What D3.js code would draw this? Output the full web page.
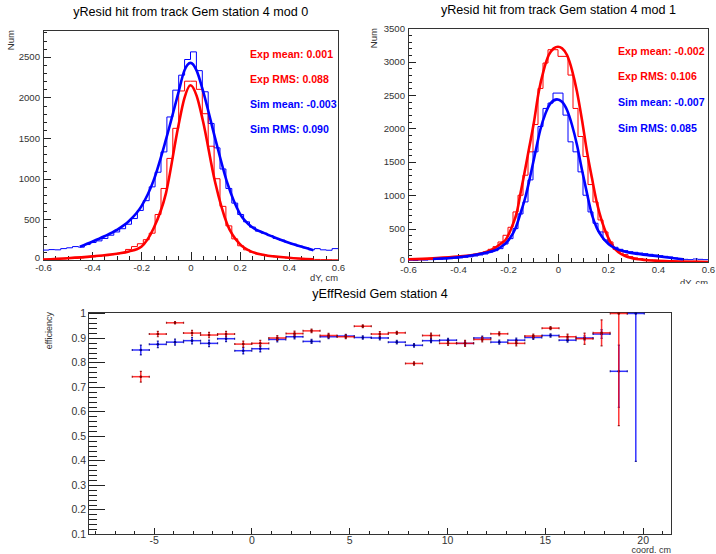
<!DOCTYPE html>
<html lang="en">
<head>
<meta charset="utf-8">
<title>yResid hit from track Gem station 4</title>
<style>
  body { margin: 0; background-color: white; }
  svg { display: block; font-family: "Liberation Sans", Arial, Helvetica, sans-serif; }
  .frame { fill: none; stroke: #333; stroke-width: 1; shape-rendering: crispEdges; }
  .axis path { display: none; }
  .axis line { stroke: #222; shape-rendering: crispEdges; }
  .axis text { fill: #333; }
  .title { fill: black; text-anchor: middle; }
  .axlabel { fill: #333; text-anchor: end; }
  .stat { font-size: 10.6px; font-weight: bold; }
  .hist { fill: none; stroke-width: 1; }
  .fit { fill: none; stroke-width: 2.6; stroke-linejoin: round; }
</style>
</head>
<body>
<script src="https://cdnjs.cloudflare.com/ajax/libs/d3/7.8.5/d3.min.js"></script>
<script>
// ---- data ----
var histXTicks = [-0.6, -0.4, -0.2, 0, 0.2, 0.4, 0.6];
var mod0YTicks = [0, 500, 1000, 1500, 2000, 2500];
var mod1YTicks = [0, 500, 1000, 1500, 2000, 2500, 3000, 3500];
var effXTicks = [-5, 0, 5, 10, 15, 20];
var effYTicks = [0.1, 0.2, 0.3, 0.4, 0.5, 0.6, 0.7, 0.8, 0.9, 1];

var titleMod0 = "yResid hit from track Gem station 4 mod 0";
var titleMod1 = "yResid hit from track Gem station 4 mod 1";
var titleEff = "yEffResid Gem station 4";

var statsMod0 = ["Exp mean: 0.001", "Exp RMS: 0.088", "Sim mean: -0.003", "Sim RMS: 0.090"];
var statsMod1 = ["Exp mean: -0.002", "Exp RMS: 0.106", "Sim mean: -0.007", "Sim RMS: 0.085"];

// mod 0: 50 bins of 0.024 from -0.6
var mod0BinLo = -0.6, mod0BinW = 0.024;
var mod0Sim = [122, 128, 125, 140, 150, 165, 158, 190, 215, 235,
               265, 305, 345, 385, 440, 510, 610, 730, 900, 1080,
               1330, 1760, 2090, 2274, 2467, 2561, 2330, 2070, 1680, 1380,
               1120, 880, 700, 560, 470, 405, 355, 330, 300, 265,
               245, 215, 195, 170, 150, 125, 140, 125, 120, 140];
var mod0Exp = [8, 10, 12, 15, 20, 22, 28, 35, 40, 48,
               55, 65, 75, 90, 130, 165, 200, 250, 330, 560,
               880, 1250, 1620, 2080, 2200, 2200, 2100, 1800, 1400, 1000,
               660, 420, 260, 175, 125, 95, 75, 60, 48, 40,
               32, 26, 20, 16, 12, 9, 7, 5, 4, 3];

// mod 1: 60 bins of 0.02 from -0.6
var mod1BinLo = -0.6, mod1BinW = 0.02;
var mod1Exp = [40, 45, 50, 40, 55, 50, 60, 65, 70, 80,
               85, 95, 100, 115, 130, 150, 190, 230, 300, 400,
               520, 750, 1000, 1300, 1650, 2060, 2600, 2980, 3180, 3180,
               3080, 3080, 2800, 2300, 1880, 1580, 1160, 900, 630, 450,
               300, 190, 160, 110, 80, 60, 50, 40, 30, 25,
               20, 15, 20, 12, 10, 10, 8, 12, 10, 8];
var mod1Sim = [25, 22, 30, 28, 35, 38, 40, 45, 50, 55,
               62, 70, 78, 90, 105, 120, 150, 170, 200, 270,
               350, 500, 720, 900, 1230, 1650, 2030, 2300, 2380, 2530,
               2530, 2200, 1800, 1650, 1350, 1000, 750, 580, 450, 330,
               270, 220, 190, 170, 155, 145, 135, 125, 115, 105,
               95, 85, 75, 60, 50, 40, 35, 45, 40, 35];

// fitted curves [dY, count]
var mod0SimFit = [[-0.45, 164], [-0.4, 225], [-0.35, 292], [-0.3, 370], [-0.25, 480], [-0.2, 660],
                  [-0.15, 980], [-0.1, 1480], [-0.05, 2050], [-0.025, 2330], [0, 2425], [0.025, 2330],
                  [0.05, 2090], [0.1, 1500], [0.15, 945], [0.2, 575], [0.25, 405], [0.3, 330],
                  [0.35, 268], [0.4, 213], [0.45, 165], [0.5, 120]];
var mod0ExpFit = [[-0.6, 5], [-0.5, 22], [-0.4, 45], [-0.3, 78], [-0.25, 105], [-0.2, 164],
                  [-0.15, 390], [-0.1, 820], [-0.05, 1640], [-0.025, 1990], [0, 2150], [0.025, 2020],
                  [0.05, 1720], [0.1, 960], [0.15, 434], [0.2, 197], [0.25, 100], [0.3, 62],
                  [0.4, 28], [0.5, 8]];
var mod1ExpFit = [[-0.6, 40], [-0.5, 55], [-0.4, 80], [-0.304, 130], [-0.257, 200], [-0.23, 270],
                  [-0.21, 330], [-0.184, 530], [-0.164, 754], [-0.15, 1028], [-0.137, 1278],
                  [-0.117, 1677], [-0.097, 2077], [-0.077, 2551], [-0.057, 2875], [-0.037, 3100],
                  [-0.017, 3200], [0, 3225], [0.016, 3200], [0.036, 3100], [0.056, 2875],
                  [0.076, 2551], [0.096, 2127], [0.116, 1652], [0.136, 1253], [0.156, 879],
                  [0.176, 604], [0.196, 404], [0.216, 255], [0.242, 145], [0.269, 90],
                  [0.322, 40], [0.389, 20], [0.456, 10], [0.6, 0]];
var mod1SimFit = [[-0.5, 45], [-0.4, 70], [-0.3, 130], [-0.237, 205], [-0.197, 330], [-0.17, 504],
                  [-0.15, 729], [-0.13, 978], [-0.11, 1303], [-0.09, 1652], [-0.071, 1977],
                  [-0.05, 2226], [-0.03, 2376], [-0.004, 2436], [0.016, 2401], [0.036, 2276],
                  [0.056, 2052], [0.076, 1752], [0.096, 1378], [0.116, 1028], [0.136, 704],
                  [0.156, 504], [0.176, 379], [0.202, 270], [0.229, 205], [0.269, 155],
                  [0.322, 120], [0.389, 90], [0.456, 60], [0.5, 40]];

// efficiency vs coordinate
var effX = [-5.66, -4.79, -3.91, -3.04, -2.17, -1.30, -0.42, 0.45, 1.32, 2.20,
            3.07, 3.94, 4.82, 5.69, 6.56, 7.43, 8.31, 9.18, 10.05, 10.92,
            11.80, 12.67, 13.54, 14.41, 15.29, 16.16, 17.03, 17.90, 18.78, 19.65];
var effHalfBin = 0.436;
var effExp = [0.742, 0.916, 0.962, 0.920, 0.912, 0.916, 0.875, 0.878, 0.900, 0.918,
              0.929, 0.910, 0.905, 0.948, 0.916, 0.921, 0.796, 0.910, 0.878, 0.878,
              0.894, 0.917, 0.878, 0.908, 0.940, 0.905, 0.897, 0.921, 1.0];
var effExpErrLo = [0.022, 0.011, 0.005, 0.011, 0.011, 0.011, 0.012, 0.012, 0.010, 0.010,
                   0.007, 0.009, 0.008, 0.006, 0.010, 0.006, 0.007, 0.010, 0.008, 0.012,
                   0.010, 0.008, 0.010, 0.008, 0.006, 0.011, 0.023, 0.053, 0.458];
var effExpErrHi = [0.022, 0.011, 0.005, 0.011, 0.011, 0.011, 0.012, 0.012, 0.010, 0.010,
                   0.007, 0.009, 0.008, 0.006, 0.010, 0.006, 0.007, 0.010, 0.008, 0.012,
                   0.010, 0.008, 0.010, 0.008, 0.006, 0.011, 0.023, 0.053, 0];
var effSim = [0.851, 0.874, 0.883, 0.889, 0.878, 0.897, 0.848, 0.856, 0.894, 0.905,
              0.886, 0.905, 0.908, 0.902, 0.900, 0.883, 0.870, 0.889, 0.891, 0.878,
              0.900, 0.883, 0.891, 0.902, 0.910, 0.891, 0.900, 0.916, 0.764, 1.0];
var effSimErrLo = [0.020, 0.013, 0.012, 0.013, 0.013, 0.012, 0.013, 0.013, 0.010, 0.009,
                   0.008, 0.008, 0.007, 0.007, 0.008, 0.007, 0.007, 0.008, 0.007, 0.008,
                   0.008, 0.008, 0.008, 0.008, 0.007, 0.008, 0.009, 0.018, 0.147, 0.604];
var effSimErrHi = [0.020, 0.013, 0.012, 0.013, 0.013, 0.012, 0.013, 0.013, 0.010, 0.009,
                   0.008, 0.008, 0.007, 0.007, 0.008, 0.007, 0.007, 0.008, 0.007, 0.008,
                   0.008, 0.008, 0.008, 0.008, 0.007, 0.008, 0.009, 0.018, 0.107, 0];

var expColor = "#ff0000";
var simColor = "#0000ff";

// ---- drawing ----
var svg = d3.select("body").append("svg")
    .attr("width", 716)
    .attr("height", 554);

svg.append("rect").attr("width", 716).attr("height", 554).attr("fill", "white");

function stepPoints(lo, w, counts) {
    var pts = [];
    counts.forEach(function(c, i) {
        pts.push([lo + i * w, c]);
        pts.push([lo + (i + 1) * w, c]);
    });
    return pts;
}

// ROOT-like axes: ticks point into the frame, minor ticks in between
function drawAxes(g, x, y, o) {
    var x0 = x.range()[0], x1 = x.range()[1];
    var y0 = y.range()[1], y1 = y.range()[0];

    var xMinor = d3.range(Math.ceil(x.domain()[0] / o.xMinorStep - 1e-6), Math.floor(x.domain()[1] / o.xMinorStep + 1e-6) + 1)
        .map(function(k) { return +(k * o.xMinorStep).toFixed(4); });
    var yMinor = d3.range(Math.ceil(y.domain()[0] / o.yMinorStep - 1e-6), Math.floor(y.domain()[1] / o.yMinorStep + 1e-6) + 1)
        .map(function(k) { return +(k * o.yMinorStep).toFixed(4); });

    g.append("g").attr("class", "axis")
        .attr("transform", "translate(0," + y1 + ")")
        .call(d3.axisBottom(x).tickValues(xMinor).tickSizeInner(-o.xLen / 2).tickSizeOuter(0).tickFormat(""));
    g.append("g").attr("class", "axis")
        .attr("transform", "translate(" + x0 + ",0)")
        .call(d3.axisLeft(y).tickValues(yMinor).tickSizeInner(-o.yLen / 2).tickSizeOuter(0).tickFormat(""));

    var xa = g.append("g").attr("class", "axis")
        .attr("transform", "translate(0," + y1 + ")")
        .call(d3.axisBottom(x).tickValues(o.xTicks).tickSizeInner(-o.xLen).tickSizeOuter(0)
            .tickPadding(o.xPad).tickFormat(o.xFormat));
    xa.selectAll("text").style("font-size", o.fontSize + "px");

    var ya = g.append("g").attr("class", "axis")
        .attr("transform", "translate(" + x0 + ",0)")
        .call(d3.axisLeft(y).tickValues(o.yTicks).tickSizeInner(-o.yLen).tickSizeOuter(0)
            .tickPadding(o.yPad).tickFormat(o.yFormat));
    ya.selectAll("text").style("font-size", o.fontSize + "px");
    // lift the bottom label a little so it clears the corner x label
    if (o.liftFirst) ya.selectAll("text").filter(function(d, i) { return i === 0; }).attr("dy", "0em");

    g.append("rect").attr("class", "frame")
        .attr("x", x0 + 0.5).attr("y", y0 + 0.5)
        .attr("width", x1 - x0).attr("height", y1 - y0);
}

function fmtDY(d) { return d === 0 ? "0" : d.toFixed(1); }

function drawResidPanel(p) {
    var g = svg.append("g");
    var x = d3.scaleLinear().domain([-0.6, 0.6]).range([p.left, p.right]);
    var y = d3.scaleLinear().domain([0, p.yMax]).range([p.bottom, p.top]);

    g.append("clipPath").attr("id", p.id)
        .append("rect").attr("x", p.left).attr("y", p.top)
        .attr("width", p.right - p.left).attr("height", p.bottom - p.top);

    drawAxes(g, x, y, {
        xTicks: histXTicks, yTicks: p.yTicks, xMinorStep: 0.05, yMinorStep: 100,
        xLen: 8, yLen: 8, xPad: 4.5, yPad: 3, fontSize: 9.6, liftFirst: true,
        xFormat: fmtDY, yFormat: d3.format("d")
    });

    var plot = g.append("g").attr("clip-path", "url(#" + p.id + ")");
    var line = d3.line().x(function(d) { return x(d[0]); }).y(function(d) { return y(d[1]); });
    var smooth = d3.line().curve(d3.curveMonotoneX)
        .x(function(d) { return x(d[0]); }).y(function(d) { return y(d[1]); });

    p.hists.forEach(function(h) {
        plot.append("path").attr("class", "hist")
            .attr("stroke", h.color)
            .attr("d", line(stepPoints(p.binLo, p.binW, h.counts)));
    });
    p.fits.forEach(function(f) {
        plot.append("path").attr("class", "fit")
            .attr("stroke", f.color)
            .attr("d", smooth(f.pts));
    });

    svg.append("text").attr("class", "title")
        .attr("x", p.titleX).attr("y", p.titleY)
        .style("font-size", "12.6px")
        .text(p.title);

    p.stats.forEach(function(s, i) {
        svg.append("text").attr("class", "stat")
            .attr("x", p.statX).attr("y", p.statY + i * p.statDY)
            .attr("fill", i < 2 ? expColor : simColor)
            .text(s);
    });

    svg.append("text").attr("class", "axlabel")
        .attr("transform", "translate(" + p.numX + "," + p.top + ") rotate(-90)")
        .style("font-size", "9.6px")
        .text("Num");

    var lab = svg.append("text").attr("class", "axlabel")
        .attr("x", p.right).attr("y", p.dyLabelY)
        .style("font-size", "9.4px")
        .text("dY, cm");
    if (p.labelClip) lab.attr("clip-path", "url(#" + p.labelClip + ")");
}

svg.append("clipPath").attr("id", "topPad")
    .append("rect").attr("x", 0).attr("y", 0).attr("width", 716).attr("height", 284);

drawResidPanel({
    id: "clipMod0", left: 43, right: 338, top: 30, bottom: 260, yMax: 2830, yTicks: mod0YTicks,
    binLo: mod0BinLo, binW: mod0BinW,
    hists: [{ counts: mod0Sim, color: simColor }, { counts: mod0Exp, color: expColor }],
    fits: [{ pts: mod0SimFit, color: simColor }, { pts: mod0ExpFit, color: expColor }],
    title: titleMod0, titleX: 190.8, titleY: 15.7,
    stats: statsMod0, statX: 250, statY: 57.5, statDY: 25.1,
    numX: 14, dyLabelY: 280.5
});

drawResidPanel({
    id: "clipMod1", left: 408, right: 708, top: 28, bottom: 262, yMax: 3505, yTicks: mod1YTicks,
    binLo: mod1BinLo, binW: mod1BinW,
    hists: [{ counts: mod1Exp, color: expColor }, { counts: mod1Sim, color: simColor }],
    fits: [{ pts: mod1ExpFit, color: expColor }, { pts: mod1SimFit, color: simColor }],
    title: titleMod1, titleX: 558.5, titleY: 13.5,
    stats: statsMod1, statX: 618, statY: 54.5, statDY: 25.8,
    numX: 377, dyLabelY: 285.5, labelClip: "topPad"
});

// ---- efficiency panel ----
var eg = svg.append("g");
var ex = d3.scaleLinear().domain([-8.36, 21.45]).range([88, 671]);
var ey = d3.scaleLinear().domain([0.1, 1.006]).range([534, 312]);

drawAxes(eg, ex, ey, {
    xTicks: effXTicks, yTicks: effYTicks, xMinorStep: 1, yMinorStep: 0.02,
    xLen: 6.5, yLen: 17, xPad: 3, yPad: 2, fontSize: 10.5,
    xFormat: function(d) { return d < 0 ? "-" + Math.abs(d) : String(d); },
    yFormat: function(d) { return d === 1 ? "1" : d.toFixed(1); }
});

function effPoints(vals, lo, hi) {
    return vals.map(function(v, i) {
        return { x: effX[i], v: v, lo: lo[i], hi: hi[i] };
    });
}

function drawEff(pts, color, dark) {
    var grp = eg.append("g").attr("stroke", color).attr("stroke-width", 1.5).attr("stroke-opacity", 0.8);
    var pt = grp.selectAll("g").data(pts).enter().append("g");
    pt.append("line")
        .attr("x1", function(d) { return ex(d.x - effHalfBin); })
        .attr("x2", function(d) { return ex(d.x + effHalfBin); })
        .attr("y1", function(d) { return ey(d.v); })
        .attr("y2", function(d) { return ey(d.v); });
    pt.append("line")
        .attr("x1", function(d) { return ex(d.x); })
        .attr("x2", function(d) { return ex(d.x); })
        .attr("y1", function(d) { return ey(d.v + d.hi); })
        .attr("y2", function(d) { return ey(d.v - d.lo); });
    // small end marks
    pt.append("path")
        .attr("stroke", dark)
        .attr("stroke-width", 1.2)
        .attr("d", function(d) {
            var cx = ex(d.x), cy = ey(d.v);
            var xl = ex(d.x - effHalfBin), xr = ex(d.x + effHalfBin);
            var yt = ey(d.v + d.hi), yb = ey(d.v - d.lo);
            return "M" + xl + "," + (cy - 1) + "V" + (cy + 1) +
                   "M" + xr + "," + (cy - 1) + "V" + (cy + 1) +
                   "M" + (cx - 1) + "," + yt + "H" + (cx + 1) +
                   "M" + (cx - 1) + "," + yb + "H" + (cx + 1);
        });
    pt.append("circle")
        .attr("cx", function(d) { return ex(d.x); })
        .attr("cy", function(d) { return ey(d.v); })
        .attr("r", 1.3)
        .attr("stroke", "none")
        .attr("fill", dark);
}

drawEff(effPoints(effSim, effSimErrLo, effSimErrHi), simColor, "#000080");
drawEff(effPoints(effExp, effExpErrLo, effExpErrHi), expColor, "#800000");

svg.append("text").attr("class", "title")
    .attr("x", 380).attr("y", 297.5)
    .style("font-size", "12.6px")
    .text(titleEff);

svg.append("text").attr("class", "axlabel")
    .attr("transform", "translate(52,312) rotate(-90)")
    .style("font-size", "9px")
    .text("efficiency");

svg.append("text").attr("class", "axlabel")
    .attr("x", 671).attr("y", 553)
    .style("font-size", "9px")
    .text("coord. cm");
</script>
</body>
</html>
